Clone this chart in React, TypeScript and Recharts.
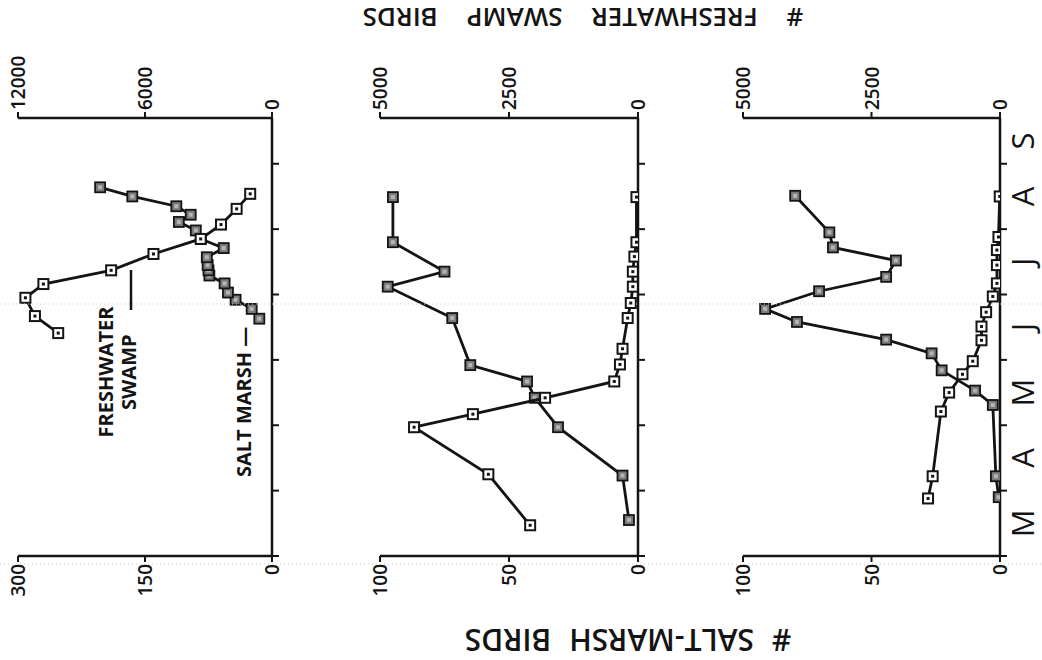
import React from "react";
import { ScatterChart, Scatter, XAxis, YAxis } from "recharts";

// time is in months counted from 1 March (0 = Mar 1 ... 6 = Sep 1)
const monthTicks = [0, 1, 2, 3, 4, 5, 6];
const monthCenters = [0.5, 1.5, 2.5, 3.5, 4.5, 5.5, 6.35];
const monthLetters = ["M", "A", "M", "J", "J", "A", "S"];

// first panel (left)
const swamp1Time = [3.41, 3.67, 3.95, 4.16, 4.37, 4.62, 4.85, 5.07, 5.31, 5.54];
const swamp1Birds = [10100, 11200, 11650, 10800, 7600, 5600, 3370, 2410, 1670, 1030];
const marsh1Time = [3.63, 3.78, 3.92, 4.03, 4.17, 4.29, 4.37, 4.45, 4.57, 4.71, 4.85, 4.98, 5.11, 5.22, 5.35, 5.5, 5.64];
const marsh1Birds = [15, 24, 43, 52, 56, 74, 75, 76, 77, 57, 84, 90, 110, 96, 113, 165, 203];

// second panel (middle)
const swamp2Time = [0.47, 1.25, 1.97, 2.17, 2.42, 2.67, 2.93, 3.17, 3.64, 3.87, 4.12, 4.35, 4.58, 4.8, 5.49];
const swamp2Birds = [2090, 2900, 4340, 3200, 1800, 460, 350, 300, 200, 140, 100, 100, 70, 30, 30];
const marsh2Time = [0.55, 1.23, 1.97, 2.42, 2.67, 2.92, 3.64, 4.12, 4.35, 4.8, 5.49];
const marsh2Birds = [3.5, 6, 31, 40, 43, 65, 72, 97, 75, 95, 95];

// third panel (right)
const swamp3Time = [0.88, 1.22, 2.21, 2.5, 2.78, 2.98, 3.3, 3.51, 3.73, 3.97, 4.17, 4.45, 4.68, 4.88, 5.5];
const swamp3Birds = [1400, 1310, 1150, 990, 730, 530, 360, 360, 270, 140, 60, 60, 60, 30, 5];
const marsh3Time = [0.9, 1.22, 2.31, 2.53, 2.84, 3.1, 3.31, 3.58, 3.78, 4.05, 4.27, 4.52, 4.72, 4.95, 5.51];
const marsh3Birds = [0.5, 1.6, 2.8, 9.7, 22.7, 26.6, 44.3, 79, 91.4, 70.4, 44.3, 40.5, 65, 66.4, 79.7];

const swampTicksBig = [0, 6000, 12000];
const marshTicksBig = [0, 150, 300];
const swampTicks = [0, 2500, 5000];
const marshTicks = [0, 50, 100];

const FONT = "'Open Sans', 'DejaVu Sans', sans-serif";
const INK = "#141414";

const toPoints = (time: number[], birds: number[]) => time.map((t, i) => ({ t, v: birds[i] }));

const TopTick = ({ x, y, payload }: any) => (
  <text x={x} y={y} transform={`rotate(-90 ${x} ${y})`} textAnchor="start" dominantBaseline="central"
    fontSize={19} fill={INK} fontFamily={FONT} fontWeight={600}>
    {payload.value}
  </text>
);

const BottomTick = ({ x, y, payload }: any) => (
  <text x={x} y={y} transform={`rotate(-90 ${x} ${y})`} textAnchor="end" dominantBaseline="central"
    fontSize={19} fill={INK} fontFamily={FONT} fontWeight={600}>
    {payload.value}
  </text>
);

// month boundaries get a short tick, month centres get the letter (last panel only)
const makeTimeTick = (withLetters: boolean) => ({ x, y, payload }: any) => {
  const v = payload.value;
  const idx = monthCenters.indexOf(v);
  if (idx < 0) {
    return <line x1={x} x2={x + 7} y1={y} y2={y} stroke={INK} strokeWidth={2} />;
  }
  if (!withLetters) return <g />;
  const cx = x + 22;
  return (
    <text x={cx} y={y} transform={`rotate(-90 ${cx} ${y})`} textAnchor="middle" dominantBaseline="central"
      fontSize={31} fill={INK} fontFamily={FONT}>
      {monthLetters[idx]}
    </text>
  );
};

const MarshDot = ({ cx, cy }: any) => {
  if (cx == null || cy == null) return <g />;
  return (
    <g>
      <rect x={cx - 5} y={cy - 5} width={10} height={10} fill="#7a7a7a" stroke={INK} strokeWidth={1.8} />
      <rect x={cx - 2} y={cy - 2} width={4} height={4} fill="#b5b5b5" />
    </g>
  );
};

const SwampDot = ({ cx, cy }: any) => {
  if (cx == null || cy == null) return <g />;
  return (
    <g>
      <rect x={cx - 5} y={cy - 5} width={10} height={10} fill="#fff" stroke={INK} strokeWidth={2} />
      <rect x={cx - 1.5} y={cy - 1.5} width={3} height={3} fill={INK} />
    </g>
  );
};

const PLOT_TOP = 118;
const PLOT_BOTTOM = 556;
const H = 660;

type PanelProps = {
  left: number;
  right: number;
  swamp: { t: number; v: number }[];
  marsh: { t: number; v: number }[];
  swampMax: number;
  marshMax: number;
  swampTickVals: number[];
  marshTickVals: number[];
  months?: boolean;
};

const Panel = ({ left, right, swamp, marsh, swampMax, marshMax, swampTickVals, marshTickVals, months }: PanelProps) => {
  const mLeft = 20;
  const timeW = months ? 42 : 12;
  const width = mLeft + (right - left) + timeW;
  const timeTickVals = months ? [...monthTicks, ...monthCenters] : monthTicks;
  return (
    <div style={{ position: "absolute", left: left - mLeft, top: 0 }}>
      <ScatterChart width={width} height={H}
        margin={{ top: PLOT_TOP - 40, bottom: H - PLOT_BOTTOM - 40, left: mLeft, right: 0 }}>
        <XAxis xAxisId="swamp" orientation="top" type="number" dataKey="v" reversed height={40}
          domain={[0, swampMax]} ticks={swampTickVals} interval={0} allowDataOverflow
          tick={<TopTick />} tickSize={6} stroke={INK} axisLine={{ stroke: INK, strokeWidth: 2.5 }}
          tickLine={{ stroke: INK, strokeWidth: 2 }} />
        <XAxis xAxisId="marsh" orientation="bottom" type="number" dataKey="v" reversed height={40}
          domain={[0, marshMax]} ticks={marshTickVals} interval={0} allowDataOverflow
          tick={<BottomTick />} tickSize={6} stroke={INK} axisLine={{ stroke: INK, strokeWidth: 2.5 }}
          tickLine={{ stroke: INK, strokeWidth: 2 }} />
        <YAxis yAxisId="time" orientation="right" type="number" dataKey="t" width={timeW}
          domain={[0, 6.7]} ticks={timeTickVals} interval={0} allowDataOverflow
          tick={makeTimeTick(!!months)} tickLine={false} tickSize={0} tickMargin={0}
          axisLine={{ stroke: INK, strokeWidth: 2.5 }} />
        <Scatter data={marsh} xAxisId="marsh" yAxisId="time" isAnimationActive={false}
          line={{ stroke: INK, strokeWidth: 2.8 }} shape={<MarshDot />} />
        <Scatter data={swamp} xAxisId="swamp" yAxisId="time" isAnimationActive={false}
          line={{ stroke: INK, strokeWidth: 2.8 }} shape={<SwampDot />} />
      </ScatterChart>
    </div>
  );
};

export default function App() {
  return (
    <div style={{ position: "absolute", left: 0, top: 0, width: 1042, height: 660, overflow: "hidden", background: "#fff" }}>
      <Panel left={18} right={272} swamp={toPoints(swamp1Time, swamp1Birds)} marsh={toPoints(marsh1Time, marsh1Birds)}
        swampMax={12000} marshMax={300} swampTickVals={swampTicksBig} marshTickVals={marshTicksBig} />
      <Panel left={380} right={638} swamp={toPoints(swamp2Time, swamp2Birds)} marsh={toPoints(marsh2Time, marsh2Birds)}
        swampMax={5000} marshMax={100} swampTickVals={swampTicks} marshTickVals={marshTicks} />
      <Panel left={743} right={1000} swamp={toPoints(swamp3Time, swamp3Birds)} marsh={toPoints(marsh3Time, marsh3Birds)}
        swampMax={5000} marshMax={100} swampTickVals={swampTicks} marshTickVals={marshTicks} months />
      <svg width={1042} height={660} style={{ position: "absolute", left: 0, top: 0, pointerEvents: "none" }}>
        <line x1={0} x2={1042} y1={304} y2={304} stroke="#c8c8c8" strokeWidth={1} strokeDasharray="1 3" />
        <line x1={0} x2={1042} y1={564} y2={564} stroke="#c8c8c8" strokeWidth={1} strokeDasharray="1 3" />
        <text x={583} y={18} transform="rotate(180 583 18)" textAnchor="middle" dominantBaseline="central"
          fontSize={26} fontFamily={FONT} fontWeight={600} fill={INK} style={{ wordSpacing: 22 }}>
          # FRESHWATER SWAMP BIRDS
        </text>
        <text x={628} y={640} transform="rotate(180 628 640)" textAnchor="middle" dominantBaseline="central"
          fontSize={30} fontFamily={FONT} fontWeight={600} fill={INK} style={{ wordSpacing: 10 }}>
          # SALT-MARSH BIRDS
        </text>
        <text x={105} y={372} transform="rotate(-90 105 372)" textAnchor="middle" dominantBaseline="central"
          fontSize={20} fontFamily={FONT} fontWeight={700} fill={INK}>
          FRESHWATER
        </text>
        <text x={128} y={410} transform="rotate(-90 128 410)" textAnchor="start" dominantBaseline="central"
          fontSize={20} fontFamily={FONT} fontWeight={700} fill={INK}>
          SWAMP
        </text>
        <line x1={131} x2={131} y1={270} y2={310} stroke={INK} strokeWidth={2.5} />
        <text x={243} y={477} transform="rotate(-90 243 477)" textAnchor="start" dominantBaseline="central"
          fontSize={20} fontFamily={FONT} fontWeight={700} fill={INK}>
          SALT MARSH —
        </text>
      </svg>
    </div>
  );
}
